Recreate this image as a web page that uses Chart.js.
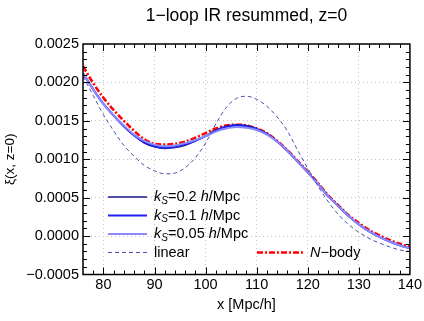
<!DOCTYPE html>
<html><head><meta charset="utf-8">
<script src="https://cdn.jsdelivr.net/npm/chart.js@4.4.1/dist/chart.umd.min.js"></script>
<style>html,body{margin:0;padding:0;background:#fff}#wrap{width:424px;height:321px}</style>
</head><body><div id="wrap"><canvas id="c" width="424" height="321"></canvas></div>
<script>
// ---- data ----
const xValues = [76,78,80,82,84,86,88,90,92,94,96,98,100,102,104,106,108,110,112,114,116,118,120,122,124,126,128,130,132,134,136,138,140];
const kS02   = [0.00212,0.00191,0.00172,0.00157,0.00143,0.00131,0.00121,0.00116,0.00114,0.00115,0.00118,0.00124,0.00130,0.00138,0.00143,0.00145,0.00144,0.00140,0.00133,0.00123,0.00111,0.00097,0.00083,0.00068,0.00052,0.00039,0.00026,0.00015,0.00006,-0.00001,-0.00007,-0.00012,-0.00016];
const kS01   = [0.00212,0.00191,0.00172,0.00157,0.00143,0.00131,0.00122,0.00117,0.00115,0.00116,0.00119,0.00124,0.00130,0.00137,0.00142,0.00144,0.00143,0.00139,0.00133,0.00123,0.00111,0.00097,0.00083,0.00068,0.00052,0.00039,0.00026,0.00015,0.00006,-0.00001,-0.00007,-0.00012,-0.00016];
const kS005  = [0.00212,0.00191,0.00172,0.00157,0.00144,0.00132,0.00124,0.00119,0.00117,0.00118,0.00121,0.00125,0.00130,0.00136,0.00140,0.00142,0.00141,0.00138,0.00132,0.00123,0.00111,0.00097,0.00083,0.00068,0.00052,0.00039,0.00026,0.00015,0.00006,-0.00001,-0.00007,-0.00012,-0.00016];
const linearXi = [0.00208,0.00183,0.00158,0.00137,0.00118,0.00104,0.00092,0.00085,0.00081,0.00082,0.00089,0.00102,0.00121,0.00146,0.00167,0.00179,0.00182,0.00178,0.00169,0.00155,0.00137,0.00112,0.00088,0.00065,0.00045,0.00028,0.00015,0.00005,-0.00003,-0.00009,-0.00014,-0.00018,-0.00020];
const nbody  = [0.00221,0.00199,0.00180,0.00164,0.00150,0.00137,0.00126,0.00120,0.00119,0.00120,0.00123,0.00128,0.00134,0.00140,0.00144,0.00145,0.00144,0.00140,0.00134,0.00124,0.00112,0.00098,0.00084,0.00069,0.00053,0.00040,0.00027,0.00017,0.00008,0.00001,-0.00005,-0.00010,-0.00014];
const xTickStep = 10, xMinorStep = 2, xMin = 76, xMax = 140;
const yTickStep = 0.0005, yMinorStep = 0.0001, yMin = -0.0005, yMax = 0.0025;
const titleText = '1\u2212loop IR resummed, z=0';

const FONT = '"Liberation Sans", Arial, Helvetica, sans-serif';
const pts = arr => arr.map((v,i)=>({x:xValues[i], y:v}));

const ds = (label, arr, color, width, dash) => ({
  label, data: pts(arr), borderColor: color, backgroundColor: color,
  borderWidth: width, borderDash: dash, pointRadius: 0, fill: false,
  cubicInterpolationMode: 'monotone'
});

const datasets = [
  ds('linear', linearXi, '#4f4fae', 1, [4,3]),
  ds('kS=0.05', kS005, '#8a8aff', 2, []),
  ds('kS=0.1', kS01, '#2020f0', 2, []),
  ds('kS=0.2', kS02, '#181888', 1.3, []),
  ds('N-body', nbody, '#ff0000', 2.6, [6,2,2,2])
];

// legend rows: rich text segments
const legendRows = [
  {ds:3, x0:108, x1:147, tx:154, y:197, segs:[['k','i'],['S','is'],['=0.2 ','n'],['h','i'],['/Mpc','n']]},
  {ds:2, x0:108, x1:147, tx:154, y:215.5, segs:[['k','i'],['S','is'],['=0.1 ','n'],['h','i'],['/Mpc','n']]},
  {ds:1, x0:108, x1:147, tx:154, y:234, segs:[['k','i'],['S','is'],['=0.05 ','n'],['h','i'],['/Mpc','n']]},
  {ds:0, x0:108, x1:147, tx:154, y:252.5, segs:[['linear','n']]},
  {ds:4, x0:257, x1:305, tx:310, y:252.5, segs:[['N','i'],['\u2212body','n']]}
];

const FS = 14.5;
const customLegend = {
  id:'customLegend',
  afterDatasetsDraw(chart){
    const ctx = chart.ctx;
    ctx.save();
    legendRows.forEach(r=>{
      const d = chart.data.datasets[r.ds];
      ctx.strokeStyle = d.borderColor; ctx.lineWidth = d.borderWidth;
      ctx.setLineDash(d.borderDash||[]);
      ctx.beginPath(); ctx.moveTo(r.x0, r.y); ctx.lineTo(r.x1, r.y); ctx.stroke();
      ctx.setLineDash([]);
      let x = r.tx;
      ctx.fillStyle = '#000'; ctx.textBaseline = 'middle'; ctx.textAlign = 'left';
      r.segs.forEach(([t,s])=>{
        let yy = r.y;
        if (s==='i') ctx.font = 'italic '+FS+'px '+FONT;
        else if (s==='is') { ctx.font = 'italic '+(FS*0.7)+'px '+FONT; yy = r.y+4; }
        else ctx.font = FS+'px '+FONT;
        ctx.fillText(t, x, yy);
        x += ctx.measureText(t).width;
      });
    });
    ctx.restore();
  }
};

const frame = {
  id:'frame',
  afterDraw(chart){
    const {ctx, chartArea:{left,right,top,bottom}, scales:{x,y}} = chart;
    ctx.save();
    ctx.strokeStyle = '#000'; ctx.lineWidth = 1; ctx.setLineDash([]);
    ctx.beginPath();
    for (let v = xMin + xMinorStep; v < xMax - 1e-9; v += xMinorStep){
      const px = Math.round(x.getPixelForValue(v)) + 0.5;
      const L = (Math.abs(v % xTickStep) < 1e-9) ? 7 : 4;
      ctx.moveTo(px, bottom); ctx.lineTo(px, bottom - L);
      ctx.moveTo(px, top); ctx.lineTo(px, top + L);
    }
    const n = Math.round((yMax - yMin)/yMinorStep);
    for (let i = 1; i < n; i++){
      const v = yMin + i*yMinorStep;
      const py = Math.round(y.getPixelForValue(v)) + 0.5;
      const L = (i % 5 === 0) ? 7 : 4;
      ctx.moveTo(left, py); ctx.lineTo(left + L, py);
      ctx.moveTo(right, py); ctx.lineTo(right - L, py);
    }
    ctx.stroke();
    ctx.lineWidth = 1.5;
    ctx.strokeRect(left, top, right-left, bottom-top);
    // title
    ctx.fillStyle = '#000';
    ctx.font = '17.5px ' + FONT;
    ctx.textAlign = 'center'; ctx.textBaseline = 'middle';
    ctx.fillText(titleText, (left+right)/2, 16);
    ctx.restore();
  }
};

const fmtY = v => {
  const s = Math.abs(v) < 1e-12 ? '0.0000' : v.toFixed(4);
  return s.replace('-', '\u2212');
};

new Chart(document.getElementById('c'), {
  type: 'line',
  data: { datasets },
  plugins: [customLegend, frame],
  options: {
    responsive: false, animation: false, devicePixelRatio: 1,
    layout: { padding: { top: 44, right: 14, left: 0, bottom: 0 } },
    plugins: { legend: {display:false}, title: {display:false}, tooltip: {enabled:false} },
    scales: {
      x: {
        type: 'linear', min: xMin, max: xMax,
        ticks: { stepSize: xTickStep, includeBounds: false, color: '#000', padding: 2,
                 font: { family: FONT, size: FS }, maxRotation: 0 },
        grid: { color: '#c4c4c4', lineWidth: 1, drawTicks: false },
        border: { display: false, dash: [1,3] },
        title: { display: true, text: 'x [Mpc/h]', color: '#000',
                 font: { family: FONT, size: FS }, padding: {top: 0, bottom: 7} },
        afterFit(s){ s.height = 46.5; }
      },
      y: {
        type: 'linear', min: yMin, max: yMax,
        ticks: { stepSize: yTickStep, color: '#000', padding: 4,
                 font: { family: FONT, size: FS }, callback: fmtY },
        grid: { color: '#c4c4c4', lineWidth: 1, drawTicks: false },
        border: { display: false, dash: [1,3] },
        title: { display: true, text: '\u03be(x, z=0)', color: '#000',
                 font: { family: FONT, size: FS-1 }, padding: {top: 2, bottom: 2} },
        afterFit(s){ s.width = 83; }
      }
    }
  }
});
</script></body></html>
